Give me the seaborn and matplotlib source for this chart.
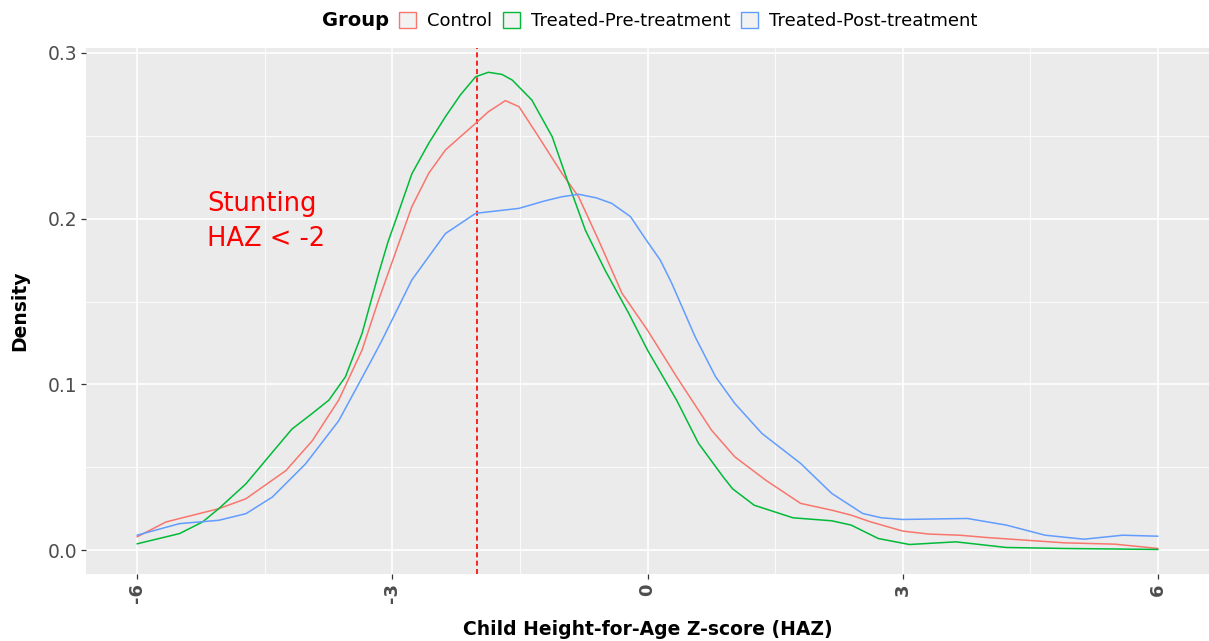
import numpy as np
import pandas as pd
import matplotlib
matplotlib.use("Agg")
import matplotlib.pyplot as plt
from matplotlib.patches import Patch
import seaborn as sns

groups = ["Control", "Treated-Pre-treatment", "Treated-Post-treatment"]
colors = ["#F8766D", "#00BA38", "#619CFF"]

control_x = [-6, -5.66, -5.04, -4.72, -4.25, -3.94, -3.63, -3.355, -3.16, -2.77, -2.57, -2.375,
             -2.2, -2.02, -1.87, -1.67, -1.51, -1.28, -1.006, -0.81, -0.575, -0.30, 0.0, 0.342,
             0.752, 1.026, 1.39, 1.80, 2.166, 2.394, 2.62, 3.0, 3.306, 3.67, 3.99, 4.446,
             4.9, 5.495, 6.0]
control_y = [0.008, 0.017, 0.025, 0.031, 0.048, 0.066, 0.0905, 0.1207, 0.151, 0.2072, 0.2275, 0.2414,
             0.2494, 0.2575, 0.2645, 0.2712, 0.2675, 0.2494, 0.2273, 0.2132, 0.187, 0.155, 0.1327, 0.1046,
             0.0724, 0.0563, 0.0422, 0.0282, 0.0241, 0.0211, 0.0171, 0.0115, 0.0097, 0.009, 0.0076, 0.006,
             0.0044, 0.0036, 0.001]

pre_x = [-6, -5.5, -5.23, -5.04, -4.72, -4.41, -4.18, -3.94, -3.745, -3.55, -3.355, -3.16,
         -3.05, -2.96, -2.77, -2.57, -2.375, -2.2, -2.02, -1.87, -1.71, -1.59, -1.36, -1.12,
         -0.93, -0.73, -0.50, -0.22, 0.0, 0.342, 0.6, 0.889, 1.0, 1.254, 1.71, 2.166, 2.394,
         2.713, 3.078, 3.625, 4.218, 4.9, 6.0]
pre_y = [0.0038, 0.010, 0.017, 0.025, 0.040, 0.059, 0.073, 0.0825, 0.0905, 0.1046, 0.1308, 0.167,
         0.186, 0.199, 0.227, 0.2456, 0.2615, 0.2746, 0.2856, 0.2883, 0.287, 0.2836, 0.2716, 0.2494,
         0.2213, 0.193, 0.169, 0.1428, 0.1207, 0.0905, 0.0644, 0.0442, 0.037, 0.0271, 0.0195, 0.0177, 0.0151,
         0.0070, 0.0034, 0.005, 0.0016, 0.001, 0.0004]

post_x = [-6, -5.5, -5.04, -4.72, -4.41, -4.02, -3.63, -3.24, -3.12, -2.77, -2.375, -2.02,
          -1.51, -1.20, -1.006, -0.81, -0.6, -0.42, -0.2, -0.027, 0.15, 0.285, 0.56, 0.80,
          1.026, 1.345, 1.80, 2.166, 2.53, 2.75, 3.0, 3.76, 4.218, 4.674, 5.13, 5.586, 6.0]
post_y = [0.009, 0.016, 0.018, 0.022, 0.032, 0.052, 0.078, 0.115, 0.1267, 0.163, 0.191, 0.2032,
          0.2062, 0.2108, 0.2132, 0.2147, 0.2125, 0.2092, 0.2012, 0.188, 0.175, 0.161, 0.1287, 0.1046,
          0.0885, 0.0704, 0.0523, 0.0342, 0.0221, 0.0195, 0.0185, 0.0191, 0.0151, 0.009, 0.0066, 0.009, 0.0084]

x_ticks = [-6, -3, 0, 3, 6]
y_ticks = [0.0, 0.1, 0.2, 0.3]
y_tick_labels = ["0.0", "0.1", "0.2", "0.3"]
cutoff = -2
annot_text = "Stunting\n HAZ < -2"

df = pd.concat([
    pd.DataFrame({"x": control_x, "y": control_y, "Group": groups[0]}),
    pd.DataFrame({"x": pre_x, "y": pre_y, "Group": groups[1]}),
    pd.DataFrame({"x": post_x, "y": post_y, "Group": groups[2]}),
], ignore_index=True)

sns.set_theme(style="darkgrid")
plt.rcParams["font.family"] = ["DejaVu Sans"]

fig = plt.figure(figsize=(12.09, 6.41), dpi=100)
ax = fig.add_axes([86 / 1209, 1 - 574 / 641, 1 - 86 / 1209, (574 - 48.4) / 641])
ax.set_facecolor("#EBEBEB")

sns.lineplot(data=df, x="x", y="y", hue="Group", hue_order=groups,
             palette=dict(zip(groups, colors)), estimator=None, linewidth=1.1,
             legend=False, ax=ax)

ax.axvline(cutoff, color="#FF0000", linestyle=(0, (3, 2)), linewidth=1.2, zorder=1.5)
ax.text(-4.53, 0.198, annot_text, color="#FF0000", fontsize=18.5, ha="center", va="center",
        multialignment="center", linespacing=1.45)

ax.set_xlim(-6.6, 6.6)
ax.set_ylim(-0.0144, 0.3027)
ax.set_xticks(x_ticks)
ax.set_xticklabels([str(t) for t in x_ticks], rotation=90, fontweight="bold",
                   color="#4D4D4D", fontsize=13)
ax.set_yticks(y_ticks)
ax.set_yticklabels(y_tick_labels, color="#4D4D4D", fontsize=13.5)
ax.set_xticks([-4.5, -1.5, 1.5, 4.5], minor=True)
ax.set_yticks([0.05, 0.15, 0.25], minor=True)
ax.grid(which="major", color="white", linewidth=1.2)
ax.grid(which="minor", color="white", linewidth=0.6)
ax.tick_params(which="major", length=3.5, width=0.9, color="#333333", pad=3,
               bottom=True, left=True)
ax.tick_params(which="minor", length=0, bottom=False, left=False)
for s in ax.spines.values():
    s.set_visible(False)
ax.set_axisbelow(True)

ax.set_xlabel("Child Height-for-Age Z-score (HAZ)", fontsize=13.5, fontweight="bold",
              labelpad=12, color="black")
ax.set_ylabel("Density", fontsize=13.5, fontweight="bold", labelpad=13, color="black")

fig.text(389 / 1209, 1 - 21 / 641, "Group", fontsize=14, fontweight="bold",
         ha="right", va="center", color="black")
handles = [Patch(facecolor="#F2F2F2", edgecolor=c, linewidth=1.0) for c in colors]
leg = fig.legend(handles, groups, loc="center left", bbox_to_anchor=(399 / 1209, 1 - 21 / 641),
                 ncol=3, frameon=False, fontsize=13, handlelength=0.95, handleheight=1.0,
                 handletextpad=0.6, columnspacing=0.6, borderpad=0, borderaxespad=0)
for t in leg.get_texts():
    t.set_color("black")

fig.savefig("out.png", dpi=100)
